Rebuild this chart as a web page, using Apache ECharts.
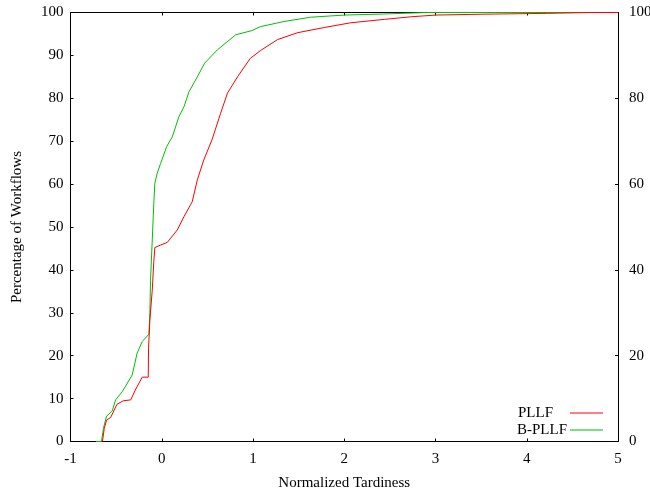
<!DOCTYPE html>
<html><head><meta charset="utf-8">
<script src="https://cdn.jsdelivr.net/npm/echarts@6/dist/echarts.min.js"></script>
<style>html,body{margin:0;padding:0;background:#fff}#c{width:650px;height:492px}</style>
</head><body><div id="c"></div>
<script>
const seriesNames = ['PLLF', 'B-PLLF'];
const pllfX = [-0.65, -0.63, -0.605, -0.56, -0.49, -0.42, -0.34, -0.29, -0.214, -0.148, -0.145, -0.13, -0.104, -0.087, -0.076, -0.013, 0.06, 0.17, 0.243, 0.334, 0.39, 0.46, 0.55, 0.645, 0.72, 0.83, 0.97, 1.08, 1.27, 1.49, 1.78, 2.07, 2.44, 2.73, 3.0, 3.5, 4.23, 4.7, 5];
const pllfY = [0, 3, 5.0, 5.6, 8.7, 9.5, 9.7, 12, 15, 15, 21.7, 28.3, 35.3, 42, 45.2, 45.8, 46.4, 49.3, 52.4, 55.9, 61, 65.6, 70.3, 76.5, 81.2, 85, 89.3, 91.1, 93.7, 95.3, 96.5, 97.6, 98.4, 99.0, 99.4, 99.6, 99.8, 100, 100];
const bpllfX = [-0.72, -0.66, -0.64, -0.605, -0.543, -0.506, -0.433, -0.324, -0.27, -0.214, -0.141, -0.13, -0.123, -0.104, -0.087, -0.076, -0.05, -0.013, 0.053, 0.115, 0.188, 0.243, 0.298, 0.39, 0.47, 0.61, 0.81, 0.99, 1.08, 1.34, 1.63, 2.0, 2.43, 2.9, 5];
const bpllfY = [0, 0, 3, 5.9, 7.1, 9.7, 11.6, 15.5, 20.6, 23.3, 25.0, 30, 37.6, 47, 55.5, 60.2, 62.5, 64.8, 68.7, 71.0, 75.7, 78, 81.5, 85, 88.2, 91.3, 94.8, 95.8, 96.7, 97.9, 98.9, 99.4, 99.65, 100, 100];
const xTicks = [-1, 0, 1, 2, 3, 4, 5];
const xName = 'Normalized Tardiness';
const yName = 'Percentage of Workflows';

const font = 'Liberation Serif';
const fs = 15;
const chart = echarts.init(document.getElementById('c'), null, {renderer: 'canvas'});
const zip = (xs, ys) => xs.map((x, i) => [x, ys[i]]);
const axisBase = {
  axisLine: {show: true, onZero: false, lineStyle: {color: '#000', width: 1}},
  axisTick: {show: true, inside: true, length: 3, lineStyle: {color: '#000'}},
  splitLine: {show: false},
  axisLabel: {color: '#000', fontFamily: font, fontSize: fs}
};
const legendBase = {right: 47, orient: 'vertical', align: 'right', icon: 'rect', itemWidth: 33, itemHeight: 1, itemGap: 0, padding: 0, selectedMode: false};
chart.setOption({
  animation: false,
  backgroundColor: '#fff',
  grid: {left: 70.5, right: 32, top: 12.5, bottom: 50.5, containLabel: false, outerBoundsMode: 'none'},
  legend: [
    Object.assign({}, legendBase, {data: [seriesNames[0]], top: 405.5,
     textStyle: {fontFamily: font, fontSize: fs, color: '#000', padding: [0, 12, 0, 0]}}),
    Object.assign({}, legendBase, {data: [seriesNames[1]], top: 422.5,
     textStyle: {fontFamily: font, fontSize: fs, color: '#000', padding: [0, -2, 0, 0]}})
  ],
  xAxis: [
    Object.assign({}, axisBase, {type: 'value', position: 'bottom', min: xTicks[0], max: xTicks[xTicks.length - 1], interval: 1,
      name: xName, nameLocation: 'middle', nameGap: 34, nameTextStyle: {fontFamily: font, fontSize: fs, color: '#000'},
      axisLabel: Object.assign({}, axisBase.axisLabel, {margin: 10})}),
    Object.assign({}, axisBase, {type: 'value', position: 'top', min: -1, max: 5, interval: 1, axisLabel: {show: false}})
  ],
  yAxis: [
    Object.assign({}, axisBase, {type: 'value', position: 'left', min: 0, max: 100, interval: 10,
      name: yName, nameLocation: 'middle', nameGap: 46, nameTextStyle: {fontFamily: font, fontSize: fs, color: '#000'},
      axisLabel: Object.assign({}, axisBase.axisLabel, {margin: 7})}),
    Object.assign({}, axisBase, {type: 'value', position: 'right', min: 0, max: 100, interval: 20,
      axisLabel: Object.assign({}, axisBase.axisLabel, {margin: 11})})
  ],
  series: [
    {name: seriesNames[0], type: 'line', data: zip(pllfX, pllfY), showSymbol: false, symbol: 'none',
     lineStyle: {color: '#ff0000', width: 1}, itemStyle: {color: '#ff0000'}, z: 3},
    {name: seriesNames[1], type: 'line', data: zip(bpllfX, bpllfY), showSymbol: false, symbol: 'none',
     lineStyle: {color: '#00c000', width: 1}, itemStyle: {color: '#00c000'}, z: 2}
  ]
});
</script></body></html>
